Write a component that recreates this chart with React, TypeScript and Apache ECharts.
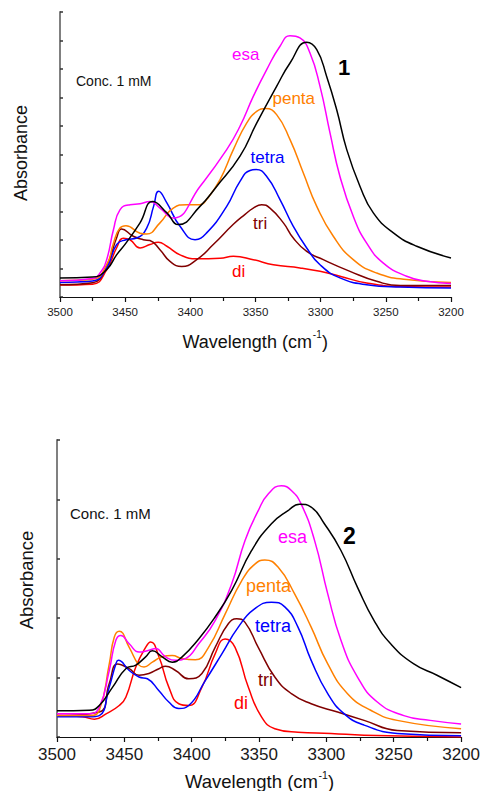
import React, { useEffect, useRef } from "react";
import * as echarts from "echarts";

// ---------- Panel 1 (compound 1) ----------
const p1BlackWn = [3500, 3475, 3464.2, 3456.6, 3449.4, 3438.6, 3428.9, 3418, 3409.2, 3392.6, 3379.8, 3361.9, 3349.1, 3333.8, 3323.5, 3310.7, 3303, 3295.4, 3287.7, 3280, 3269.8, 3259.6, 3244.2, 3226.3, 3200];
const p1BlackAbs = [0.67, 0.7, 0.96, 1.48, 1.89, 2.6, 3.35, 2.95, 2.54, 3.18, 3.88, 4.94, 6.1, 7.39, 8.21, 8.94, 8.68, 7.74, 6.57, 5.17, 3.88, 2.95, 2.25, 1.78, 1.37];

const p1EsaWn = [3500, 3475, 3469.3, 3464.2, 3459, 3454, 3446.3, 3438.6, 3431, 3423.3, 3413, 3392.6, 3372.1, 3361.9, 3351.7, 3341.4, 3331.2, 3323.5, 3315.9, 3308.2, 3300.5, 3292.8, 3285.2, 3275, 3264.7, 3251.9, 3234, 3218.7, 3200];
const p1EsaAbs = [0.57, 0.65, 0.84, 1.31, 2.36, 3.06, 3.24, 3.27, 3.35, 3.12, 2.77, 3.88, 5.17, 5.99, 7.04, 7.98, 8.8, 9.17, 9.09, 8.56, 7.39, 5.75, 4.23, 2.83, 1.89, 1.19, 0.73, 0.55, 0.47];

const p1PentaWn = [3500, 3475, 3464.2, 3459, 3454, 3449.4, 3438.6, 3433.5, 3423.3, 3413.1, 3402.9, 3392.6, 3387.5, 3377.2, 3367, 3356.8, 3349.1, 3342.2, 3333.8, 3323.5, 3313.3, 3303, 3290.3, 3275, 3257, 3234, 3200];
const p1PentaAbs = [0.57, 0.62, 1.13, 1.89, 2.42, 2.5, 2.24, 2.21, 2.6, 3.12, 3.24, 3.24, 3.42, 4.12, 5.17, 6.1, 6.51, 6.61, 6.4, 5.52, 4.35, 3.18, 2.13, 1.31, 0.84, 0.61, 0.51];

const p1TetraWn = [3500, 3475, 3464.2, 3456.6, 3449.4, 3441.2, 3433.5, 3428.2, 3424.3, 3418, 3407.9, 3396.4, 3387.5, 3372.1, 3361.9, 3354.2, 3349.6, 3341.4, 3331.2, 3321, 3310.7, 3300.5, 3285.2, 3264.7, 3239, 3200];
const p1TetraAbs = [0.51, 0.56, 1.02, 1.84, 2.01, 2.07, 2.42, 3.18, 3.71, 3.3, 2.48, 2.01, 2.25, 3.18, 4.06, 4.44, 4.47, 4.23, 3.42, 2.48, 1.72, 1.13, 0.67, 0.43, 0.35, 0.32];

const p1TriWn = [3500, 3475, 3464.2, 3456.6, 3452.7, 3443.8, 3436.1, 3431, 3423.3, 3415.6, 3406.6, 3395.1, 3382.4, 3367, 3358, 3351.7, 3345.3, 3338.9, 3328.6, 3321, 3310.7, 3298, 3277.5, 3257, 3239, 3200];
const p1TriAbs = [0.43, 0.5, 1.1, 2.07, 2.39, 2.13, 2.01, 1.98, 1.66, 1.25, 1.07, 1.31, 1.84, 2.55, 2.9, 3.12, 3.24, 3.12, 2.6, 2.07, 1.6, 1.31, 0.9, 0.55, 0.4, 0.4];

const p1DiWn = [3500, 3475, 3464.2, 3456.6, 3451.4, 3446.3, 3438.6, 3431, 3424.6, 3418, 3407.9, 3395.1, 3377.2, 3367, 3351.7, 3336.3, 3315.9, 3300.5, 3285.2, 3264.7, 3239, 3200];
const p1DiAbs = [0.42, 0.45, 0.95, 1.72, 2.06, 2.01, 1.72, 1.84, 1.92, 1.78, 1.48, 1.34, 1.36, 1.43, 1.31, 1.13, 1.02, 0.9, 0.73, 0.49, 0.37, 0.35];

// ---------- Panel 2 (compound 2) ----------
const p2BlackWn = [3500, 3475.9, 3468.6, 3458.7, 3448.9, 3441.5, 3434.2, 3429.2, 3421.9, 3414.5, 3407.1, 3394.8, 3382.6, 3370.3, 3355.5, 3340.8, 3328.5, 3319.9, 3311.3, 3301.5, 3289.2, 3276.9, 3264.6, 3252.3, 3235.1, 3217.9, 3200];
const p2BlackAbs = [0.44, 0.45, 0.53, 0.84, 1.15, 1.21, 1.35, 1.45, 1.35, 1.26, 1.35, 1.65, 2.02, 2.47, 3.14, 3.59, 3.81, 3.92, 3.87, 3.59, 3.14, 2.52, 1.96, 1.57, 1.23, 1.04, 0.83];

const p2EsaWn = [3500, 3475.9, 3468.6, 3461.2, 3456.3, 3452.6, 3446.4, 3439.1, 3431.7, 3426.8, 3419.4, 3412, 3404.7, 3394.8, 3382.6, 3370.3, 3360.4, 3350.6, 3343.2, 3333.4, 3326, 3318.7, 3308.8, 3299, 3289.2, 3276.9, 3262.2, 3242.5, 3222.9, 3200];
const p2EsaAbs = [0.39, 0.39, 0.5, 1.12, 1.63, 1.71, 1.57, 1.43, 1.46, 1.49, 1.35, 1.29, 1.32, 1.57, 1.96, 2.58, 3.31, 3.81, 4.09, 4.23, 4.15, 3.92, 3.31, 2.41, 1.63, 1.01, 0.59, 0.36, 0.28, 0.22];

const p2PentaWn = [3500, 3475.9, 3468.6, 3461.2, 3457.5, 3453.8, 3446.4, 3439.1, 3435.4, 3429.2, 3421.9, 3414.5, 3407.1, 3397.3, 3387.5, 3375.2, 3362.9, 3353.1, 3345.7, 3335.9, 3323.6, 3311.3, 3299, 3284.3, 3267.1, 3247.4, 3200];
const p2PentaAbs = [0.36, 0.36, 0.45, 1.23, 1.68, 1.78, 1.51, 1.21, 1.18, 1.26, 1.35, 1.37, 1.32, 1.3, 1.51, 2.07, 2.63, 2.91, 2.98, 2.86, 2.41, 1.85, 1.23, 0.73, 0.45, 0.28, 0.14];

const p2TetraWn = [3500, 3475.9, 3468.6, 3461.2, 3456.3, 3454.5, 3446.4, 3439.1, 3432.9, 3424.3, 3417, 3409.6, 3402.2, 3389.9, 3377.6, 3365.4, 3353.1, 3340.8, 3330.9, 3321.1, 3311.3, 3299, 3286.7, 3272, 3247.4, 3200];
const p2TetraAbs = [0.34, 0.34, 0.36, 0.84, 1.23, 1.29, 1.12, 1.01, 0.98, 0.78, 0.59, 0.48, 0.53, 0.95, 1.4, 1.85, 2.16, 2.27, 2.19, 1.85, 1.29, 0.73, 0.39, 0.2, 0.06, 0.02];

const p2TriWn = [3500, 3468.6, 3461.2, 3455, 3446.4, 3439.1, 3431.7, 3424.3, 3419.4, 3412, 3402.2, 3392.4, 3382.6, 3372.7, 3366.6, 3360.4, 3350.6, 3338.3, 3326, 3311.3, 3291.7, 3272, 3247.4, 3200];
const p2TriAbs = [0.36, 0.42, 0.9, 1.23, 1.15, 1.04, 1.07, 1.15, 1.19, 1.12, 0.98, 1.07, 1.51, 1.91, 1.99, 1.93, 1.51, 1.01, 0.73, 0.56, 0.42, 0.28, 0.11, 0.07];

const p2DiWn = [3500, 3480.8, 3472.2, 3463.6, 3453.8, 3448.9, 3441.5, 3434.2, 3430.5, 3424.3, 3417, 3409.6, 3402.2, 3392.4, 3382.6, 3375.2, 3367.8, 3358, 3348.2, 3338.3, 3321.1, 3296.6, 3272, 3200];
const p2DiAbs = [0.36, 0.34, 0.3, 0.39, 0.53, 0.67, 1.18, 1.51, 1.6, 1.35, 0.84, 0.56, 0.53, 0.84, 1.4, 1.65, 1.51, 0.84, 0.34, 0.14, 0.08, 0.06, 0.03, 0.0];

const xTickMin = 3200;
const xTickMax = 3500;
const xTickStep = 50;

const COLORS = {
  black: "#000000",
  esa: "#ff00ff",
  penta: "#ff8000",
  tetra: "#0000ff",
  tri: "#800000",
  di: "#ff0000",
};

const FONT = "'Liberation Sans', Arial, Helvetica, sans-serif";

function pairs(wn: number[], ab: number[]) {
  return wn.map((w, i) => [w, ab[i]]);
}

function line(name: string, wn: number[], ab: number[], color: string, idx: number) {
  return {
    type: "line",
    name,
    xAxisIndex: idx,
    yAxisIndex: idx,
    data: pairs(wn, ab),
    smooth: 0.5,
    showSymbol: false,
    symbol: "none",
    lineStyle: { color, width: 1.5 },
    z: 3,
  };
}

function txt(x: number, y: number, text: string, size: number, color: string, bold = false, extra: any = {}) {
  return {
    type: "text",
    x,
    y,
    style: {
      text,
      fill: color,
      font: `${bold ? "bold " : ""}${size}px ${FONT}`,
      textAlign: "left",
      textVerticalAlign: "middle",
      ...extra,
    },
  };
}

export default function App() {
  const ref = useRef<HTMLDivElement>(null);
  useEffect(() => {
    if (!ref.current) return;
    const chart = echarts.init(ref.current, null, { renderer: "svg" });

    const xAxisBase = (labelSize: number) => ({
      type: "value",
      min: xTickMin,
      max: xTickMax,
      interval: xTickStep,
      inverse: true,
      axisLine: { show: true, onZero: false, lineStyle: { color: "#111", width: 1.2 } },
      axisTick: { show: true, inside: false, length: 5, lineStyle: { color: "#111", width: 1.2 } },
      minorTick: { show: true, splitNumber: 2, length: 4, lineStyle: { color: "#111", width: 1.2 } },
      splitLine: { show: false },
      axisLabel: {
        fontSize: labelSize,
        color: "#1a1a1a",
        margin: 9,
        fontFamily: FONT,
        formatter: (v: number) => String(v),
      },
    });

    const yAxisBase = (max: number) => ({
      type: "value",
      min: 0,
      max,
      interval: 1,
      axisLine: { show: true, onZero: false, lineStyle: { color: "#808080", width: 2 } },
      axisTick: { show: true, inside: true, length: 3, lineStyle: { color: "#333", width: 1.5 } },
      axisLabel: { show: false },
      splitLine: { show: false },
    });

    const option: any = {
      animation: false,
      backgroundColor: "#ffffff",
      grid: [
        { left: 60, top: 12, width: 391, height: 285, containLabel: false },
        { left: 57, top: 440, width: 407, height: 297, containLabel: false },
      ],
      xAxis: [
        { ...xAxisBase(11.5), gridIndex: 0 },
        { ...xAxisBase(17), gridIndex: 1 },
      ],
      yAxis: [
        { ...yAxisBase(10), gridIndex: 0 },
        { ...yAxisBase(5), gridIndex: 1 },
      ],
      series: [
        line("di1", p1DiWn, p1DiAbs, COLORS.di, 0),
        line("tri1", p1TriWn, p1TriAbs, COLORS.tri, 0),
        line("tetra1", p1TetraWn, p1TetraAbs, COLORS.tetra, 0),
        line("penta1", p1PentaWn, p1PentaAbs, COLORS.penta, 0),
        line("esa1", p1EsaWn, p1EsaAbs, COLORS.esa, 0),
        line("black1", p1BlackWn, p1BlackAbs, COLORS.black, 0),
        line("di2", p2DiWn, p2DiAbs, COLORS.di, 1),
        line("tri2", p2TriWn, p2TriAbs, COLORS.tri, 1),
        line("tetra2", p2TetraWn, p2TetraAbs, COLORS.tetra, 1),
        line("penta2", p2PentaWn, p2PentaAbs, COLORS.penta, 1),
        line("esa2", p2EsaWn, p2EsaAbs, COLORS.esa, 1),
        line("black2", p2BlackWn, p2BlackAbs, COLORS.black, 1),
      ],
      graphic: [
        // Panel 1 texts
        { type: "text", x: 21, y: 153, rotation: Math.PI / 2, style: { text: "Absorbance", fill: "#111", font: `18px ${FONT}`, textAlign: "center", textVerticalAlign: "middle" } },
        txt(76, 80.5, "Conc. 1 mM", 14, "#111"),
        txt(232, 54, "esa", 17, COLORS.esa),
        txt(338, 67.5, "1", 22, "#000", true),
        txt(272.5, 98, "penta", 17, COLORS.penta),
        txt(250.5, 157.5, "tetra", 17, COLORS.tetra),
        txt(253, 223.5, "tri", 17, COLORS.tri),
        txt(232, 271.5, "di", 17, COLORS.di),
        txt(182.5, 341.5, "Wavelength (cm", 18, "#111"),
        txt(312.8, 334.5, "-1", 10, "#111"),
        txt(322, 341.5, ")", 18, "#111"),
        // Panel 2 texts
        { type: "text", x: 26, y: 580, rotation: Math.PI / 2, style: { text: "Absorbance", fill: "#111", font: `18.5px ${FONT}`, textAlign: "center", textVerticalAlign: "middle" } },
        txt(70, 513.5, "Conc. 1 mM", 15, "#111"),
        txt(278, 537, "esa", 18, COLORS.esa),
        txt(343, 535.5, "2", 23, "#000", true),
        txt(246, 585.5, "penta", 18, COLORS.penta),
        txt(255, 625.5, "tetra", 18, COLORS.tetra),
        txt(258, 679.5, "tri", 18, COLORS.tri),
        txt(234, 703, "di", 18, COLORS.di),
        txt(185, 781.5, "Wavelength (cm", 18.5, "#111"),
        txt(318.5, 774.5, "-1", 10.5, "#111"),
        txt(328, 781.5, ")", 18.5, "#111"),
      ],
    };

    chart.setOption(option);
    return () => chart.dispose();
  }, []);

  return (
    <div
      ref={ref}
      style={{ position: "fixed", left: 0, top: 0, width: 483, height: 791, background: "#fff" }}
    />
  );
}
